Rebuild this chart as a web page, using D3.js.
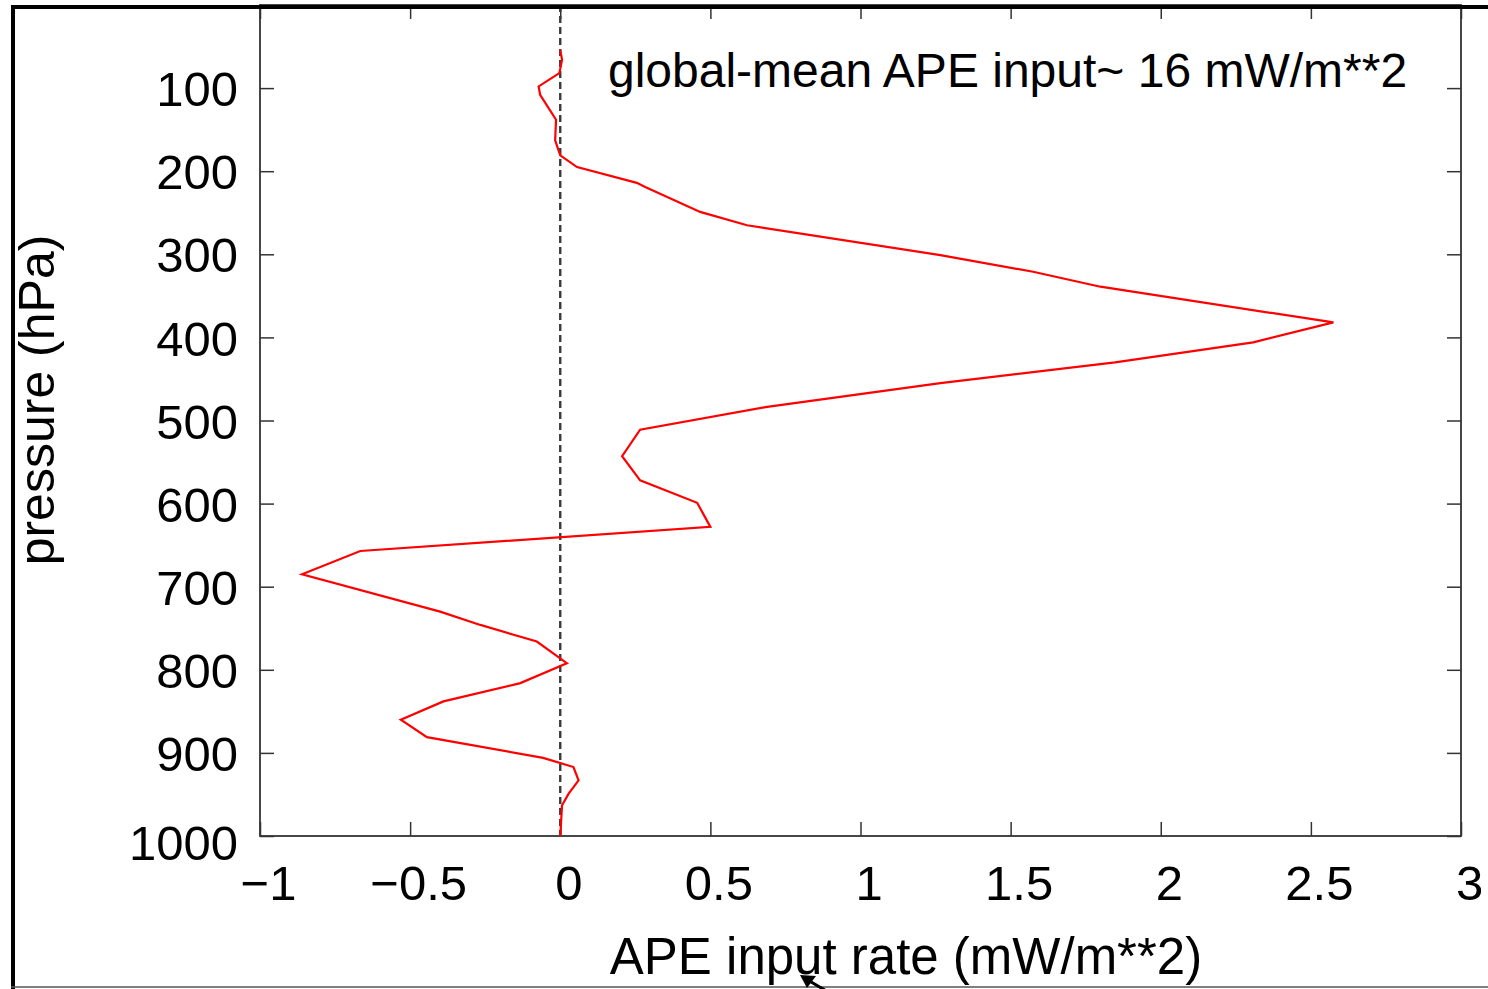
<!DOCTYPE html>
<html>
<head>
<meta charset="utf-8">
<script src="https://cdn.jsdelivr.net/npm/d3@7"></script>
<style>
  body { margin: 0; background: #fff; }
  svg { display: block; font-family: "Liberation Sans", Arial, Helvetica, sans-serif; }
</style>
</head>
<body>
<svg id="chart" width="1488" height="989"></svg>
<script>
// APE input rate profile (mW/m**2) vs pressure (hPa)
const pressure = [54, 66, 82, 98, 108, 138, 163, 181, 195, 214, 219, 249, 265, 301, 321, 339,
  382, 406, 430, 455, 484, 511, 543, 572, 599, 628, 657, 685, 730, 746, 766, 792, 816, 838,
  860, 881, 906, 917, 933, 949, 963, 1000];
const apeRate = [0.0, 0.006, -0.003, -0.072, -0.067, -0.014, -0.017, 0.0, 0.056, 0.255, 0.283, 0.466, 0.622, 1.266, 1.575, 1.799,
  2.575, 2.308, 1.848, 1.266, 0.683, 0.266, 0.206, 0.266, 0.456, 0.500, -0.666, -0.860, -0.400, -0.266, -0.078, 0.022, -0.133, -0.389,
  -0.531, -0.444, -0.057, 0.044, 0.061, 0.028, 0.006, 0.0];
const xTicks = [-1, -0.5, 0, 0.5, 1, 1.5, 2, 2.5, 3];
const yTicks = [100, 200, 300, 400, 500, 600, 700, 800, 900, 1000];

const svg = d3.select("#chart");
const plot = { left: 260, right: 1461, top: 5, bottom: 836 };

const x = d3.scaleLinear().domain([-1, 3]).range([plot.left, plot.right]);
const y = d3.scaleLinear().domain([0, 1000]).range([plot.top, plot.bottom]);

const frameColor = "#333";

// axes with inward ticks on all four sides
const gx = svg.append("g").attr("transform", `translate(0,${plot.bottom})`)
  .call(d3.axisBottom(x).tickValues(xTicks).tickFormat(d3.format("")).tickSize(-14).tickSizeOuter(0).tickPadding(0));
gx.selectAll("text").attr("y", 29).attr("dy", "0.71em").attr("dx", 8)
  .attr("font-size", 49).attr("fill", "#000");

const gy = svg.append("g").attr("transform", `translate(${plot.left},0)`)
  .call(d3.axisLeft(y).tickValues(yTicks).tickFormat(d3.format("d")).tickSize(-14).tickSizeOuter(0).tickPadding(22));
gy.selectAll("text").attr("dy", d => d === 1000 ? "0.48em" : "0.36em").attr("font-size", 49).attr("fill", "#000");

const gt = svg.append("g").attr("transform", `translate(0,${plot.top})`)
  .call(d3.axisTop(x).tickValues(xTicks).tickSize(-14).tickSizeOuter(0).tickFormat(""));
const gr = svg.append("g").attr("transform", `translate(${plot.right},0)`)
  .call(d3.axisRight(y).tickValues(yTicks).tickSize(-14).tickSizeOuter(0).tickFormat(""));

[gx, gy, gt, gr].forEach(g => {
  g.select(".domain").remove();
  g.selectAll("line").attr("stroke", frameColor).attr("stroke-width", 1.5);
});

// plot frame
svg.append("rect").attr("x", plot.left).attr("y", plot.top).attr("width", plot.right - plot.left).attr("height", plot.bottom - plot.top)
  .attr("fill", "none").attr("stroke", frameColor).attr("stroke-width", 1.8);

// zero line
svg.append("line").attr("x1", x(0)).attr("x2", x(0)).attr("y1", plot.top).attr("y2", plot.bottom)
  .attr("stroke", "#3a3a3a").attr("stroke-width", 2.4).attr("stroke-dasharray", "7,4");

// profile
const line = d3.line().x((d, i) => x(apeRate[i])).y(d => y(d));
svg.append("path").datum(pressure).attr("d", line)
  .attr("fill", "none").attr("stroke", "#ff0000").attr("stroke-width", 2.2).attr("stroke-linejoin", "miter");

// texts
svg.append("text").attr("x", 608).attr("y", 87).attr("font-size", 48).attr("fill", "#000")
  .text("global-mean APE input~ 16 mW/m**2");
svg.append("text").attr("x", 906).attr("y", 974).attr("text-anchor", "middle").attr("font-size", 51).attr("fill", "#000")
  .text("APE input rate (mW/m**2)");
svg.append("text").attr("transform", "translate(54,400) rotate(-90)").attr("text-anchor", "middle")
  .attr("font-size", 50).attr("fill", "#000").text("pressure (hPa)");

// outer border of the slide crop
svg.append("line").attr("x1", 13).attr("x2", 13).attr("y1", 5).attr("y2", 989).attr("stroke", "#000").attr("stroke-width", 4);
svg.append("line").attr("x1", 11).attr("x2", 1488).attr("y1", 7).attr("y2", 7).attr("stroke", "#000").attr("stroke-width", 4);
svg.append("line").attr("x1", 11).attr("x2", 1488).attr("y1", 987).attr("y2", 987).attr("stroke", "#555").attr("stroke-width", 1.5);

// small pointer arrow at the bottom
svg.append("line").attr("x1", 806).attr("y1", 979).attr("x2", 835).attr("y2", 996).attr("stroke", "#000").attr("stroke-width", 3);
svg.append("path").attr("d", "M800,975 L816,976 L807,988 Z").attr("fill", "#000");
</script>
</body>
</html>
